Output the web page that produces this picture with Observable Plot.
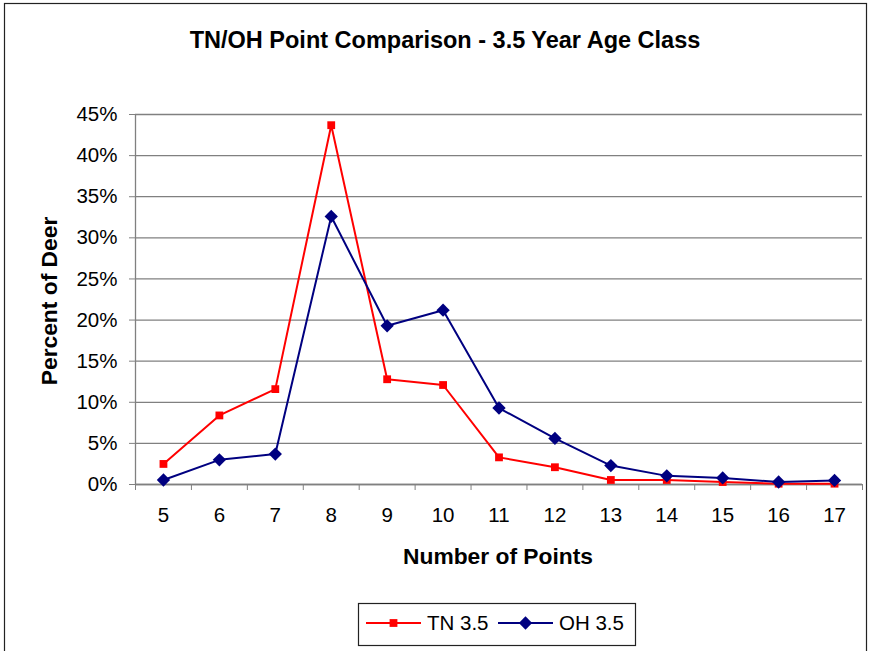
<!DOCTYPE html>
<html>
<head>
<meta charset="utf-8">
<script src="https://cdn.jsdelivr.net/npm/d3@7"></script>
<script src="https://cdn.jsdelivr.net/npm/@observablehq/plot@0.6"></script>
<style>
  html, body { margin: 0; padding: 0; background: white; }
  #chart { width: 871px; height: 651px; overflow: hidden; }
</style>
</head>
<body>
<div id="chart"></div>
<script>
const title = "TN/OH Point Comparison - 3.5 Year Age Class";
const xLabel = "Number of Points";
const yLabel = "Percent of Deer";
const categories = [5, 6, 7, 8, 9, 10, 11, 12, 13, 14, 15, 16, 17];
const yTicks = [0, 5, 10, 15, 20, 25, 30, 35, 40, 45];
const seriesNames = ["TN 3.5", "OH 3.5"];
const tnValues = [2.5, 8.4, 11.6, 43.7, 12.8, 12.1, 3.3, 2.1, 0.55, 0.55, 0.3, 0.1, 0.1];
const ohValues = [0.55, 3.0, 3.7, 32.6, 19.3, 21.2, 9.3, 5.6, 2.3, 1.05, 0.8, 0.3, 0.5];
const seriesColors = ["#ff0000", "#000080"];

const tn = categories.map((c, i) => ({x: c, y: tnValues[i]}));
const oh = categories.map((c, i) => ({x: c, y: ohValues[i]}));
const boundaries = categories.map(c => c - 0.5).concat([categories[categories.length - 1] + 0.5]);

const FONT = "'Liberation Sans', Arial, Helvetica, sans-serif";

const svg = Plot.plot({
  width: 871,
  height: 651,
  marginLeft: 135,
  marginRight: 9,
  marginTop: 114,
  marginBottom: 167,
  style: {fontFamily: FONT, fontSize: "20.5px", color: "#000", background: "white", overflow: "visible"},
  x: {type: "linear", domain: [boundaries[0], boundaries[boundaries.length - 1]]},
  y: {type: "linear", domain: [0, 45]},
  marks: [
    Plot.gridY(yTicks, {stroke: "#808080", strokeOpacity: 1, strokeWidth: 1.3}),
    Plot.ruleX([boundaries[0]], {stroke: "#808080", strokeWidth: 1.3}),
    Plot.ruleY([0], {stroke: "#808080", strokeWidth: 1.3}),
    Plot.axisY(yTicks, {tickFormat: d => d + "%", tickSize: 6, tickPadding: 12, fontSize: 20.5, stroke: "#808080", fill: "#000", label: null}),
    Plot.axisX(boundaries, {tickFormat: () => "", tickSize: 6, stroke: "#808080", label: null}),
    Plot.axisX(categories, {tickSize: 0, tickPadding: 23, fontSize: 20.5, fill: "#000", label: null}),
    Plot.line(tn, {x: "x", y: "y", stroke: seriesColors[0], strokeWidth: 2}),
    Plot.line(oh, {x: "x", y: "y", stroke: seriesColors[1], strokeWidth: 2}),
    Plot.dot(tn, {x: "x", y: "y", symbol: "square", r: 4.4, fill: seriesColors[0], stroke: "none"}),
    Plot.dot(oh, {x: "x", y: "y", symbol: "diamond2", r: 6, fill: seriesColors[1], stroke: "none"})
  ]
});

const s = d3.select(svg);
// outer chart border
s.append("rect").attr("x", 4.5).attr("y", 3.5).attr("width", 862).attr("height", 700)
  .attr("fill", "none").attr("stroke", "#222").attr("stroke-width", 1.2);

s.append("text").attr("x", 445).attr("y", 48).attr("text-anchor", "middle")
  .attr("font-family", FONT).attr("font-weight", "bold").attr("font-size", 23.5).attr("fill", "#000")
  .text(title);

s.append("text").attr("x", 498).attr("y", 564).attr("text-anchor", "middle")
  .attr("font-family", FONT).attr("font-weight", "bold").attr("font-size", 22.8).attr("fill", "#000")
  .text(xLabel);

s.append("text").attr("transform", "translate(57,301) rotate(-90)").attr("text-anchor", "middle")
  .attr("font-family", FONT).attr("font-weight", "bold").attr("font-size", 22.8).attr("fill", "#000")
  .text(yLabel);

// legend
const lg = s.append("g");
lg.append("rect").attr("x", 358.5).attr("y", 603.5).attr("width", 277).attr("height", 42)
  .attr("fill", "white").attr("stroke", "#222").attr("stroke-width", 1.2);
const legendItems = [
  {name: seriesNames[0], color: seriesColors[0], x0: 366, sym: d3.symbolSquare, size: Math.PI * 4.4 * 4.4},
  {name: seriesNames[1], color: seriesColors[1], x0: 498, sym: d3.symbolDiamond2, size: Math.PI * 6 * 6}
];
legendItems.forEach(it => {
  lg.append("line").attr("x1", it.x0).attr("x2", it.x0 + 55).attr("y1", 623).attr("y2", 623)
    .attr("stroke", it.color).attr("stroke-width", 2);
  lg.append("path").attr("d", d3.symbol(it.sym, it.size)()).attr("transform", `translate(${it.x0 + 27.5},623)`)
    .attr("fill", it.color);
  lg.append("text").attr("x", it.x0 + 61).attr("y", 630).attr("text-anchor", "start")
    .attr("font-family", FONT).attr("font-size", 20.5)
    .attr("fill", "#000").text(it.name);
});

document.getElementById("chart").appendChild(svg);
</script>
</body>
</html>
